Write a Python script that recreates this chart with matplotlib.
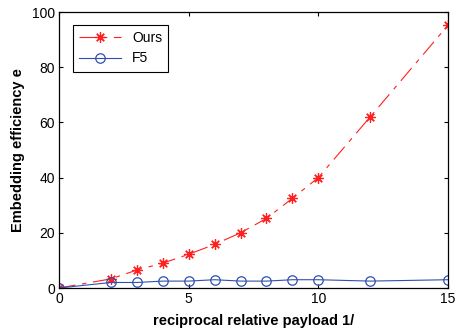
import matplotlib
matplotlib.use("Agg")
import matplotlib.pyplot as plt

x_ours = [0, 2, 3, 4, 5, 6, 7, 8, 9, 10, 12, 15]
y_ours = [0, 3.3, 6.5, 9, 12.2, 15.8, 20, 25.2, 32.5, 40, 62, 95.2]
x_f5 = [0, 2, 3, 4, 5, 6, 7, 8, 9, 10, 12, 15]
y_f5 = [0, 2.0, 2.0, 2.5, 2.5, 3.0, 2.5, 2.5, 3.0, 3.0, 2.5, 3.0]
xticks = [0, 5, 10, 15]
yticks = [0, 20, 40, 60, 80, 100]

plt.rcParams['font.family'] = ['Liberation Sans', 'DejaVu Sans']

fig = plt.figure(figsize=(4.57, 3.30), dpi=100)
ax = fig.add_axes([59/457, 1 - 288/330, (448-59)/457, (288-12)/330])

ax.plot(x_ours, y_ours, color='#ff2020', linestyle=(0, (15, 6, 4, 6)), linewidth=0.8,
        marker=(8, 2, 0), markersize=7.5, markeredgewidth=0.9, label='Ours')
ax.plot(x_f5, y_f5, color='#3050b0', linestyle='-', linewidth=0.8,
        marker='o', markersize=6.8, markerfacecolor='none', markeredgewidth=0.9, label='F5')

ax.set_xlim(0, 15)
ax.set_ylim(0, 100)
ax.set_xticks(xticks)
ax.set_yticks(yticks)
ax.tick_params(direction='in', length=3, labelsize=10, top=True, right=True, pad=3)
for s in ax.spines.values():
    s.set_linewidth(0.9)

ax.set_xlabel('reciprocal relative payload 1/', fontsize=10.5, fontweight='bold', labelpad=6)
ax.set_ylabel('Embedding efficiency e', fontsize=10.5, fontweight='bold', labelpad=5)

leg = ax.legend(loc='upper left', bbox_to_anchor=(14/389, (288-25)/276), borderaxespad=0,
                fontsize=10, fancybox=False, framealpha=1, edgecolor='black',
                handlelength=3, borderpad=0.45, labelspacing=0.45)
leg.get_frame().set_linewidth(0.8)

fig.savefig('out.png', dpi=100)
